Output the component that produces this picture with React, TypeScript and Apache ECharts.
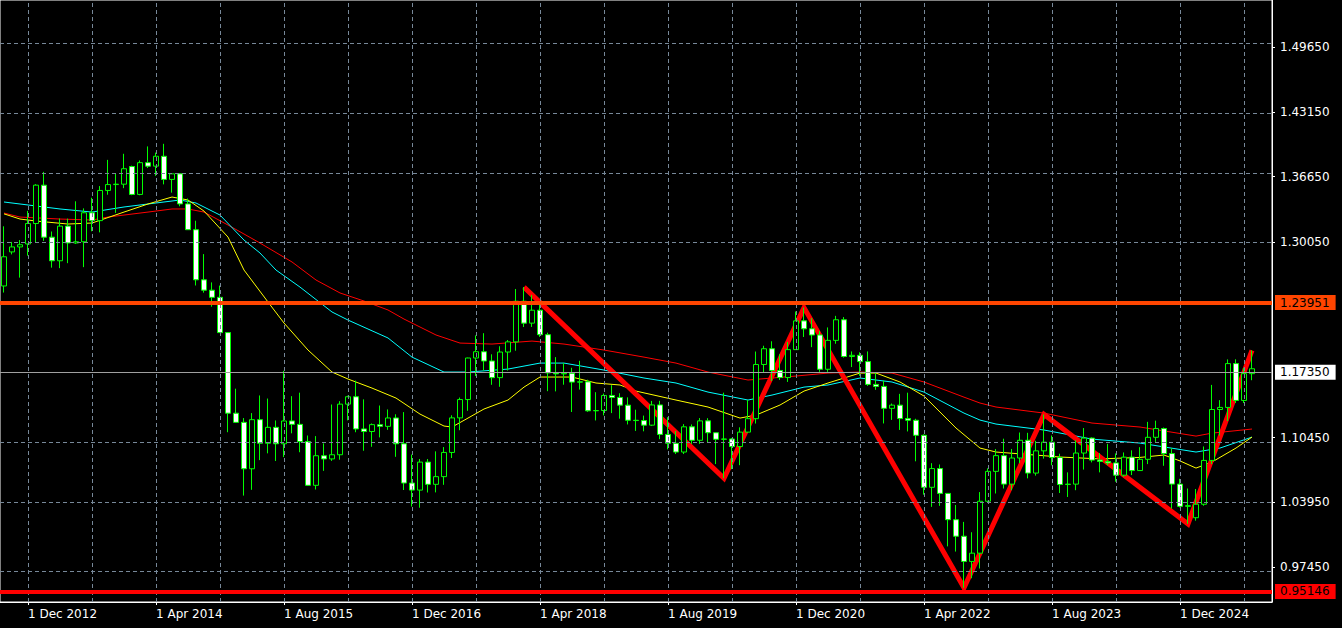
import React, { useEffect, useRef } from "react";
import * as echarts from "echarts";

// ---- categories: monthly bars from Sep 2012, plus two empty slots at the right ----
const START_YEAR = 2012;
const START_MONTH = 9;
const SLOT_COUNT = 159;
const MONTH_NAMES = ["Jan", "Feb", "Mar", "Apr", "May", "Jun", "Jul", "Aug", "Sep", "Oct", "Nov", "Dec"];
const months: string[] = [];
for (let i = 0; i < SLOT_COUNT; i++) {
  const m0 = START_MONTH - 1 + i;
  const y = START_YEAR + Math.floor(m0 / 12);
  const m = (m0 % 12) + 1;
  months.push(`${y}-${m < 10 ? "0" + m : m}`);
}

// ---- monthly candles: [open, high, low, close] ----
const ohlc: [number, number, number, number][] = [
  [1.2566, 1.3165, 1.2500, 1.2859], [1.2908, 1.3008, 1.2883, 1.2958], [1.2958, 1.3027, 1.2650, 1.2980], [1.2988, 1.3320, 1.2870, 1.3193],
  [1.3193, 1.3588, 1.3000, 1.3578], [1.3578, 1.3711, 1.3019, 1.3056], [1.3056, 1.3113, 1.2750, 1.2819], [1.2819, 1.3243, 1.2745, 1.3167],
  [1.3167, 1.3242, 1.2795, 1.2998], [1.2998, 1.3416, 1.2988, 1.3010], [1.3010, 1.3345, 1.2755, 1.3301], [1.3301, 1.3452, 1.3115, 1.3222],
  [1.3222, 1.3569, 1.3104, 1.3525], [1.3525, 1.3832, 1.3482, 1.3584], [1.3584, 1.3700, 1.3300, 1.3588], [1.3588, 1.3893, 1.3548, 1.3743],
  [1.3765, 1.3774, 1.3477, 1.3485], [1.3485, 1.3826, 1.3477, 1.3804], [1.3804, 1.3967, 1.3750, 1.3769], [1.3769, 1.3905, 1.3672, 1.3868],
  [1.3868, 1.3993, 1.3586, 1.3636], [1.3636, 1.3700, 1.3503, 1.3692], [1.3692, 1.3700, 1.3366, 1.3390], [1.3390, 1.3444, 1.3132, 1.3131],
  [1.3131, 1.3221, 1.2571, 1.2628], [1.2628, 1.2886, 1.2499, 1.2524], [1.2524, 1.2602, 1.2358, 1.2452], [1.2452, 1.2570, 1.2098, 1.2098],
  [1.2098, 1.2100, 1.1098, 1.1289], [1.1289, 1.1535, 1.1193, 1.1197], [1.1197, 1.1240, 1.0462, 1.0731], [1.0731, 1.1290, 1.0520, 1.1224],
  [1.1224, 1.1467, 1.0818, 1.0987], [1.0987, 1.1436, 1.0886, 1.1147], [1.1147, 1.1216, 1.0809, 1.0982], [1.0982, 1.1714, 1.0848, 1.1211],
  [1.1211, 1.1460, 1.1087, 1.1177], [1.1177, 1.1495, 1.0897, 1.1004], [1.1004, 1.1065, 1.0558, 1.0565], [1.0565, 1.1059, 1.0523, 1.0862],
  [1.0862, 1.0986, 1.0710, 1.0830], [1.0830, 1.1376, 1.0810, 1.0872], [1.0872, 1.1410, 1.0822, 1.1380], [1.1380, 1.1464, 1.1217, 1.1454],
  [1.1454, 1.1616, 1.1098, 1.1131], [1.1131, 1.1428, 1.0912, 1.1105], [1.1105, 1.1186, 1.0952, 1.1174], [1.1174, 1.1366, 1.1046, 1.1157],
  [1.1157, 1.1327, 1.1122, 1.1241], [1.1241, 1.1278, 1.0851, 1.0982], [1.0982, 1.1300, 1.0518, 1.0588], [1.0588, 1.0874, 1.0352, 1.0517],
  [1.0517, 1.0829, 1.0340, 1.0798], [1.0798, 1.0829, 1.0493, 1.0575], [1.0575, 1.0906, 1.0494, 1.0652], [1.0652, 1.0949, 1.0570, 1.0895],
  [1.0895, 1.1268, 1.0839, 1.1242], [1.1242, 1.1446, 1.1118, 1.1426], [1.1426, 1.1846, 1.1313, 1.1843], [1.1843, 1.2070, 1.1662, 1.1906],
  [1.1906, 1.2092, 1.1717, 1.1813], [1.1813, 1.1880, 1.1574, 1.1646], [1.1646, 1.1961, 1.1554, 1.1903], [1.1903, 1.2023, 1.1717, 1.2005],
  [1.2005, 1.2536, 1.1916, 1.2413], [1.2413, 1.2555, 1.2154, 1.2193], [1.2193, 1.2476, 1.2155, 1.2323], [1.2323, 1.2414, 1.2055, 1.2077],
  [1.2077, 1.2097, 1.1510, 1.1693], [1.1693, 1.1852, 1.1508, 1.1684], [1.1684, 1.1791, 1.1575, 1.1690], [1.1690, 1.1745, 1.1301, 1.1601],
  [1.1601, 1.1815, 1.1526, 1.1604], [1.1604, 1.1625, 1.1302, 1.1313], [1.1313, 1.1500, 1.1216, 1.1316], [1.1316, 1.1486, 1.1267, 1.1467],
  [1.1467, 1.1570, 1.1290, 1.1447], [1.1447, 1.1489, 1.1234, 1.1370], [1.1370, 1.1448, 1.1176, 1.1218], [1.1218, 1.1324, 1.1111, 1.1215],
  [1.1215, 1.1265, 1.1107, 1.1169], [1.1169, 1.1412, 1.1160, 1.1372], [1.1372, 1.1413, 1.1028, 1.1076], [1.1076, 1.1249, 1.0926, 1.0987],
  [1.0987, 1.1110, 1.0879, 1.0899], [1.0899, 1.1179, 1.0879, 1.1152], [1.1152, 1.1176, 1.0981, 1.1017], [1.1017, 1.1240, 1.0981, 1.1212],
  [1.1212, 1.1239, 1.0992, 1.1093], [1.1093, 1.1096, 1.0778, 1.1027], [1.1027, 1.1495, 1.0636, 1.1030], [1.1030, 1.1040, 1.0727, 1.0954],
  [1.0954, 1.1147, 1.0767, 1.1099], [1.1099, 1.1422, 1.1096, 1.1234], [1.1234, 1.1908, 1.1185, 1.1778], [1.1778, 1.1966, 1.1696, 1.1936],
  [1.1936, 1.2011, 1.1612, 1.1718], [1.1718, 1.1881, 1.1622, 1.1647], [1.1647, 1.2004, 1.1603, 1.1927], [1.1927, 1.2310, 1.1925, 1.2216],
  [1.2216, 1.2349, 1.2054, 1.2136], [1.2136, 1.2243, 1.1952, 1.2074], [1.2074, 1.2113, 1.1704, 1.1730], [1.1730, 1.2150, 1.1704, 1.2020],
  [1.2020, 1.2266, 1.1986, 1.2227], [1.2227, 1.2254, 1.1847, 1.1858], [1.1858, 1.1909, 1.1752, 1.1870], [1.1870, 1.1900, 1.1664, 1.1807],
  [1.1807, 1.1909, 1.1563, 1.1578], [1.1578, 1.1692, 1.1524, 1.1558], [1.1558, 1.1616, 1.1186, 1.1338], [1.1338, 1.1386, 1.1222, 1.1370],
  [1.1370, 1.1483, 1.1121, 1.1235], [1.1235, 1.1495, 1.1106, 1.1218], [1.1218, 1.1233, 1.0806, 1.1067], [1.1067, 1.1076, 1.0471, 1.0545],
  [1.0545, 1.0787, 1.0349, 1.0733], [1.0733, 1.0774, 1.0359, 1.0484], [1.0484, 1.0486, 0.9952, 1.0220], [1.0220, 1.0368, 0.9900, 1.0054],
  [1.0054, 1.0198, 0.9536, 0.9801], [0.9801, 1.0094, 0.9632, 0.9884], [0.9884, 1.0497, 0.9730, 1.0405], [1.0405, 1.0736, 1.0393, 1.0705],
  [1.0705, 1.0929, 1.0483, 1.0863], [1.0863, 1.1033, 1.0533, 1.0577], [1.0577, 1.0930, 1.0516, 1.0839], [1.0839, 1.1095, 1.0788, 1.1017],
  [1.1017, 1.1092, 1.0635, 1.0688], [1.0688, 1.1012, 1.0662, 1.0911], [1.0911, 1.1276, 1.0833, 1.0998], [1.0998, 1.1065, 1.0766, 1.0844],
  [1.0844, 1.0882, 1.0488, 1.0573], [1.0573, 1.0695, 1.0448, 1.0577], [1.0577, 1.1017, 1.0516, 1.0889], [1.0889, 1.1140, 1.0723, 1.1039],
  [1.1039, 1.1046, 1.0795, 1.0818], [1.0818, 1.0888, 1.0695, 1.0804], [1.0804, 1.0981, 1.0768, 1.0790], [1.0790, 1.0885, 1.0601, 1.0667],
  [1.0667, 1.0895, 1.0650, 1.0848], [1.0848, 1.0916, 1.0668, 1.0713], [1.0713, 1.0948, 1.0709, 1.0826], [1.0826, 1.1202, 1.0778, 1.1047],
  [1.1047, 1.1214, 1.1001, 1.1135], [1.1135, 1.1145, 1.0761, 1.0884], [1.0884, 1.0937, 1.0332, 1.0577], [1.0577, 1.0630, 1.0343, 1.0354],
  [1.0354, 1.0533, 1.0178, 1.0361], [1.0240, 1.0528, 1.0210, 1.0375], [1.0375, 1.0955, 1.0360, 1.0815], [1.0815, 1.1573, 1.0778, 1.1326],
  [1.1326, 1.1420, 1.1065, 1.1347], [1.1347, 1.1829, 1.1210, 1.1787], [1.1787, 1.1830, 1.1391, 1.1417], [1.1417, 1.1743, 1.1391, 1.1686],
  [1.1686, 1.1919, 1.1620, 1.1735],
];

// ---- moving averages: [bar index, value] ----
const maYellow: [number, number][] = [
  [0, 1.3290], [2, 1.3238], [4, 1.3218], [8, 1.3188], [11, 1.3198], [15, 1.3308], [18, 1.3389], [21, 1.3459], [23, 1.3429],
  [25, 1.3318], [28, 1.3057], [30, 1.2726], [33, 1.2405], [35, 1.2194], [38, 1.1923], [41, 1.1702], [43, 1.1632], [46, 1.1541],
  [49, 1.1441], [52, 1.1280], [55, 1.1160], [56, 1.1150], [58, 1.1240], [60, 1.1331], [63, 1.1421], [65, 1.1551], [67, 1.1652],
  [71, 1.1652], [74, 1.1592], [77, 1.1572], [79, 1.1511], [84, 1.1421], [88, 1.1351], [92, 1.1240], [94, 1.1270], [97, 1.1371],
  [100, 1.1511], [103, 1.1592], [107, 1.1692], [109, 1.1692], [112, 1.1602], [115, 1.1461], [119, 1.1140], [122, 1.0939],
  [124, 1.0899], [130, 1.0862], [132, 1.0849], [137, 1.0830], [142, 1.0845], [145, 1.0869], [147, 1.0810], [149, 1.0738],
  [151, 1.0799], [154, 1.0939], [156, 1.1049],
];
const maCyan: [number, number][] = [
  [0, 1.3409], [3, 1.3379], [7, 1.3339], [11, 1.3308], [15, 1.3359], [18, 1.3389], [22, 1.3429], [24, 1.3399], [27, 1.3278],
  [30, 1.3027], [32, 1.2897], [34, 1.2726], [37, 1.2555], [41, 1.2305], [43, 1.2224], [48, 1.2044], [51, 1.1852], [55, 1.1702],
  [58, 1.1702], [63, 1.1732], [67, 1.1792], [70, 1.1792], [75, 1.1722], [80, 1.1642], [84, 1.1592], [88, 1.1501], [93, 1.1421],
  [96, 1.1471], [100, 1.1551], [103, 1.1572], [107, 1.1642], [111, 1.1602], [115, 1.1501], [120, 1.1290], [122, 1.1220],
  [124, 1.1180], [130, 1.1120], [136, 1.1029], [142, 1.0989], [149, 1.0899], [152, 1.0939], [156, 1.1049],
];
const maRed: [number, number][] = [
  [0, 1.3298], [2, 1.3258], [7, 1.3238], [11, 1.3228], [13, 1.3258], [18, 1.3308], [21, 1.3339], [23, 1.3339], [25, 1.3308],
  [28, 1.3178], [32, 1.2997], [36, 1.2807], [39, 1.2626], [42, 1.2496], [45, 1.2415], [48, 1.2325], [50, 1.2234], [54, 1.2074],
  [57, 1.1993], [61, 1.1983], [66, 1.2013], [70, 1.1983], [75, 1.1923], [80, 1.1852], [84, 1.1792], [88, 1.1702], [93, 1.1622],
  [99, 1.1662], [103, 1.1692], [107, 1.1702], [111, 1.1692], [115, 1.1602], [120, 1.1450], [122, 1.1391], [124, 1.1351],
  [130, 1.1290], [136, 1.1190], [142, 1.1150], [149, 1.1059], [151, 1.1089], [156, 1.1130],
];

// ---- zigzag pivots: [bar index, price] ----
const zigzag: [number, number][] = [
  [65, 1.2555], [90, 1.0636], [100, 1.2349], [120, 0.9536], [130, 1.1276], [148, 1.0178], [156, 1.1919],
];

// ---- horizontal levels ----
const resistanceLevel = 1.23951;
const supportLevel = 0.95146;
const bidPrice = 1.1735;

// ---- price scale ----
const yAxisMin = 0.93937;
const yAxisMax = 1.54368;
const yLabelValues = [0.9745, 1.0395, 1.1045, 1.3005, 1.3665, 1.4315, 1.4965];
const yGridValues = [0.9745, 1.0395, 1.1045, 1.1703, 1.2355, 1.3005, 1.3665, 1.4315, 1.4965];
const xGridStart = 3; // Dec 2012
const xGridStep = 8;
const xLabelStep = 16;

const FONT = "DejaVu Sans";
const GRID_COLOR = "#778899";

function sparse(points: [number, number][]): (number | null)[] {
  const arr: (number | null)[] = months.map(() => null);
  points.forEach(([i, v]) => {
    arr[i] = v;
  });
  return arr;
}

function fmtMonth(val: string): string {
  const [y, m] = val.split("-");
  return `1 ${MONTH_NAMES[parseInt(m, 10) - 1]} ${y}`;
}

function levelLine(value: number, lineColor: string, width: number, boxColor: string, text: string) {
  return {
    yAxis: value,
    lineStyle: { color: lineColor, width, type: "solid" },
    label: {
      show: true,
      position: "end",
      distance: 3,
      formatter: text,
      color: "#000000",
      backgroundColor: boxColor,
      padding: [2, 6, 1, 5],
      fontFamily: FONT,
      fontSize: 12,
    },
  };
}

export default function App() {
  const ref = useRef<HTMLDivElement>(null);

  useEffect(() => {
    if (!ref.current) return;
    const chart = echarts.init(ref.current, undefined, { renderer: "svg" });

    const labelInterval = (i: number) => (i - xGridStart) % xLabelStep === 0;
    const vGrid: any[] = [];
    for (let i = xGridStart; i < ohlc.length; i += xGridStep) vGrid.push({ xAxis: months[i] });
    const hGrid: any[] = yGridValues.map((v) => ({ yAxis: v }));

    const nullData = months.map(() => null);

    const option: any = {
      animation: false,
      backgroundColor: "#000000",
      textStyle: { fontFamily: FONT },
      grid: {
        left: 0,
        top: 0,
        width: 1272,
        height: 602,
        show: true,
        borderColor: "#FFFFFF",
        borderWidth: 1,
        backgroundColor: "transparent",
      },
      xAxis: {
        type: "category",
        data: months,
        boundaryGap: true,
        axisLine: { show: true, lineStyle: { color: "#FFFFFF", width: 1 } },
        axisTick: {
          show: true,
          alignWithLabel: true,
          interval: labelInterval,
          length: 3,
          lineStyle: { color: "#FFFFFF" },
        },
        axisLabel: {
          show: true,
          interval: labelInterval,
          formatter: fmtMonth,
          color: "#FFFFFF",
          fontFamily: FONT,
          fontSize: 12,
          align: "left",
          margin: 6,
        },
        splitLine: { show: false },
      },
      yAxis: {
        type: "value",
        position: "right",
        min: yAxisMin,
        max: yAxisMax,
        axisLine: { show: true, lineStyle: { color: "#FFFFFF", width: 1 } },
        axisTick: { show: true, customValues: yLabelValues, length: 3, lineStyle: { color: "#FFFFFF" } },
        axisLabel: {
          show: true,
          customValues: yLabelValues,
          formatter: (v: number) => v.toFixed(5),
          color: "#FFFFFF",
          fontFamily: FONT,
          fontSize: 12,
          margin: 8,
        },
        splitLine: { show: false },
      },
      series: [
        {
          name: "grid",
          type: "line",
          data: nullData,
          silent: true,
          z: 1,
          symbol: "none",
          markLine: {
            silent: true,
            symbol: ["none", "none"],
            label: { show: false },
            lineStyle: { color: GRID_COLOR, width: 1, type: [4, 3] },
            data: [...vGrid, ...hGrid],
          },
        },
        {
          name: "MA slow",
          type: "line",
          data: sparse(maRed),
          connectNulls: true,
          symbol: "none",
          z: 2,
          lineStyle: { color: "#FF0000", width: 1 },
        },
        {
          name: "MA mid",
          type: "line",
          data: sparse(maCyan),
          connectNulls: true,
          symbol: "none",
          z: 2,
          lineStyle: { color: "#00FFFF", width: 1 },
        },
        {
          name: "MA fast",
          type: "line",
          data: sparse(maYellow),
          connectNulls: true,
          symbol: "none",
          z: 2,
          lineStyle: { color: "#FFFF00", width: 1 },
        },
        {
          name: "ZigZag",
          type: "line",
          data: sparse(zigzag),
          connectNulls: true,
          symbol: "none",
          z: 3,
          lineStyle: { color: "#FF0000", width: 5, join: "miter" },
        },
        {
          name: "EURUSD",
          type: "candlestick",
          data: ohlc.map(([o, h, l, c]) => [o, c, l, h]),
          barWidth: 6,
          z: 4,
          itemStyle: {
            color: "#000000",
            color0: "#FFFFFF",
            borderColor: "#00FF00",
            borderColor0: "#00FF00",
            borderWidth: 1,
          },
        },
        {
          name: "levels",
          type: "line",
          data: nullData,
          silent: true,
          z: 5,
          symbol: "none",
          markLine: {
            silent: true,
            symbol: ["none", "none"],
            data: [
              levelLine(resistanceLevel, "#FF4500", 4, "#FF4500", resistanceLevel.toFixed(5)),
              levelLine(bidPrice, "#A0A0A0", 1, "#FFFFFF", bidPrice.toFixed(5)),
              levelLine(supportLevel, "#FF0000", 4, "#FF0000", supportLevel.toFixed(5)),
            ],
          },
        },
      ],
    };

    chart.setOption(option);
    return () => {
      chart.dispose();
    };
  }, []);

  return (
    <div
      ref={ref}
      style={{ position: "fixed", left: 0, top: 0, width: 1342, height: 628, background: "#000000" }}
    />
  );
}
